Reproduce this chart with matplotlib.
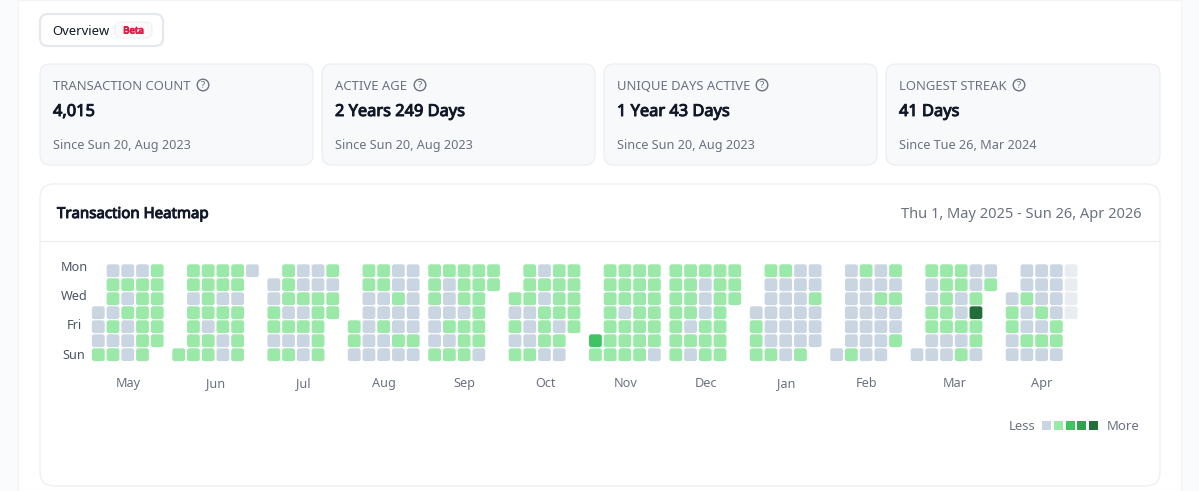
import matplotlib
matplotlib.use('Agg')
import matplotlib.pyplot as plt
import matplotlib.patheffects as pe
from matplotlib.patches import FancyBboxPatch, Circle, Rectangle

plt.rcParams['font.family'] = ['Noto Sans', 'DejaVu Sans']

# each column is Mon..Sun, 0-4 = activity level, . = no cell, f = future day
months = ['May', 'Jun', 'Jul', 'Aug', 'Sep', 'Oct', 'Nov', 'Dec', 'Jan', 'Feb', 'Mar', 'Apr']
weeks = [
    ['...0001', '0110101', '0101000', '0111111', '111111.'],
    ['......1', '1101111', '1111011', '1101100', '1101111', '0......'],
    ['.001101', '1110101', '0010100', '0011111', '1011...'],
    ['....110', '1100000', '1100100', '0010010', '0000010'],
    ['1110001', '1000101', '1110111', '1111110', '11.....'],
    ['..10101', '1110001', '0101110', '1111010', '11111..'],
    ['.....21', '1111111', '1110111', '1111111', '1111110'],
    ['1111111', '1111010', '1000111', '1111111', '111....'],
    ['...0111', '1000001', '1000000', '0000001', '001000.'],
    ['......0', '0000001', '1000000', '0010000', '101001.'],
    ['......0', '1001100', '1111100', '1100101', '0014110', '01.....'],
    ['..01100', '0010010', '0001010', '0000110', 'ffff...'],
]
day_labels = ['Mon', 'Wed', 'Fri', 'Sun']
day_rows = [0, 2, 4, 6]

card_labels = ['TRANSACTION COUNT', 'ACTIVE AGE', 'UNIQUE DAYS ACTIVE', 'LONGEST STREAK']
card_values = ['4,015', '2 Years 249 Days', '1 Year 43 Days', '41 Days']
card_since = ['Since Sun 20, Aug 2023', 'Since Sun 20, Aug 2023',
              'Since Sun 20, Aug 2023', 'Since Tue 26, Mar 2024']

colors = {'0': '#c9d6e2', '1': '#9be9a8', '2': '#40c463', '3': '#30a14e',
          '4': '#216e39', 'f': '#e9edf2'}
legend_levels = ['0', '1', '2', '3', '4']

GRAY = '#6b7280'
DARK = '#111827'
BORDER = '#e8ebef'

fig = plt.figure(figsize=(11.99, 4.91), dpi=100)
ax = fig.add_axes([0, 0, 1, 1])
ax.set_xlim(0, 1199)
ax.set_ylim(491, 0)
ax.axis('off')


def box(x0, y0, x1, y1, r, face, edge=BORDER, lw=1.0, z=1):
    ax.add_patch(FancyBboxPatch((x0 + r, y0 + r), x1 - x0 - 2 * r, y1 - y0 - 2 * r,
                                boxstyle='round,pad=%g,rounding_size=%g' % (r, r),
                                fc=face, ec=edge, lw=lw, zorder=z))


def bold_text(x, y, s, size, color, **kw):
    # installed Noto Sans has no real bold face here, so thicken the outline
    ax.text(x, y, s, fontsize=size, color=color, va='baseline', zorder=4,
            path_effects=[pe.withStroke(linewidth=0.7, foreground=color)], **kw)


# page background and the white panel
ax.add_patch(Rectangle((0, 0), 1199, 491, fc='#fafbfc', ec='none', zorder=0))
ax.add_patch(Rectangle((18, 0), 1163, 491, fc='white', ec='#f1f3f5', lw=0.8, zorder=0.5))

# overview tab
box(40, 14, 163, 46, 8, 'white', '#e5e8ec', 1.6)
ax.text(52, 35, 'Overview', fontsize=9.4, color=DARK, va='baseline')
box(115, 22, 152, 38, 6, '#fafafb', '#f0f1f3', 0.8)
bold_text(133.5, 33.5, 'Beta', 7.0, '#e11d48', ha='center')

# stat cards
card_x = [(40, 313), (322, 595), (604, 877), (886, 1160)]
icon_x = [203, 420, 762, 1019]
for i in range(4):
    x0, x1 = card_x[i]
    box(x0, 64, x1, 165, 10, '#f8f9fb', '#eceef1', 0.9)
    ax.text(x0 + 13, 90, card_labels[i], fontsize=9.4, color=GRAY, va='baseline')
    bold_text(x0 + 13, 116, card_values[i], 11.8, DARK)
    ax.text(x0 + 13, 149, card_since[i], fontsize=9.15, color=GRAY, va='baseline')
    ax.add_patch(Circle((icon_x[i], 85), 5.8, fc='none', ec=GRAY, lw=1.0, zorder=3))
    ax.text(icon_x[i], 88.2, '?', fontsize=7, color=GRAY, ha='center', va='baseline', weight='bold')

# heatmap card
box(40, 184, 1160, 486, 14, 'white', '#eceef1', 0.9)
ax.plot([40, 1160], [240.5, 240.5], color='#eceef1', lw=0.9, zorder=2)
bold_text(57, 218, 'Transaction Heatmap', 10.8, DARK)
ax.text(1142, 218, 'Thu 1, May 2025 - Sun 26, Apr 2026', fontsize=10.55, color=GRAY,
        ha='right', va='baseline')

# grid geometry in pixels
x_start, x_step, month_gap = 98.3, 14.73, 6.75
y_start, y_step = 270.7, 14.0
cell = 12.8

col = 0
for m, month in enumerate(months):
    xs = []
    for week in weeks[m]:
        x = x_start + x_step * col + month_gap * m
        xs.append(x)
        for row, level in enumerate(week):
            if level == '.':
                continue
            y = y_start + y_step * row
            box(x - cell / 2, y - cell / 2, x + cell / 2, y + cell / 2, 2.4,
                colors[level], 'none', 0, 3)
        col += 1
    ax.text(sum(xs) / len(xs) + 0.5, 387, month, fontsize=9.1, color=GRAY, ha='center', va='baseline')

for label, row in zip(day_labels, day_rows):
    ax.text(74, 270.7 + 14.67 * row, label, fontsize=9.1, color='#4b5563',
            ha='center', va='baseline')

# legend
ax.text(1035, 430, 'Less', fontsize=9.4, color=GRAY, ha='right', va='baseline')
for i, level in enumerate(legend_levels):
    lx = 1046.7 + 11.75 * i
    ax.add_patch(Rectangle((lx - 4.5, 421), 9, 9, fc=colors[level], ec='none', zorder=3))
ax.text(1107, 430, 'More', fontsize=9.4, color=GRAY, ha='left', va='baseline')

fig.savefig('out.png', dpi=100)
